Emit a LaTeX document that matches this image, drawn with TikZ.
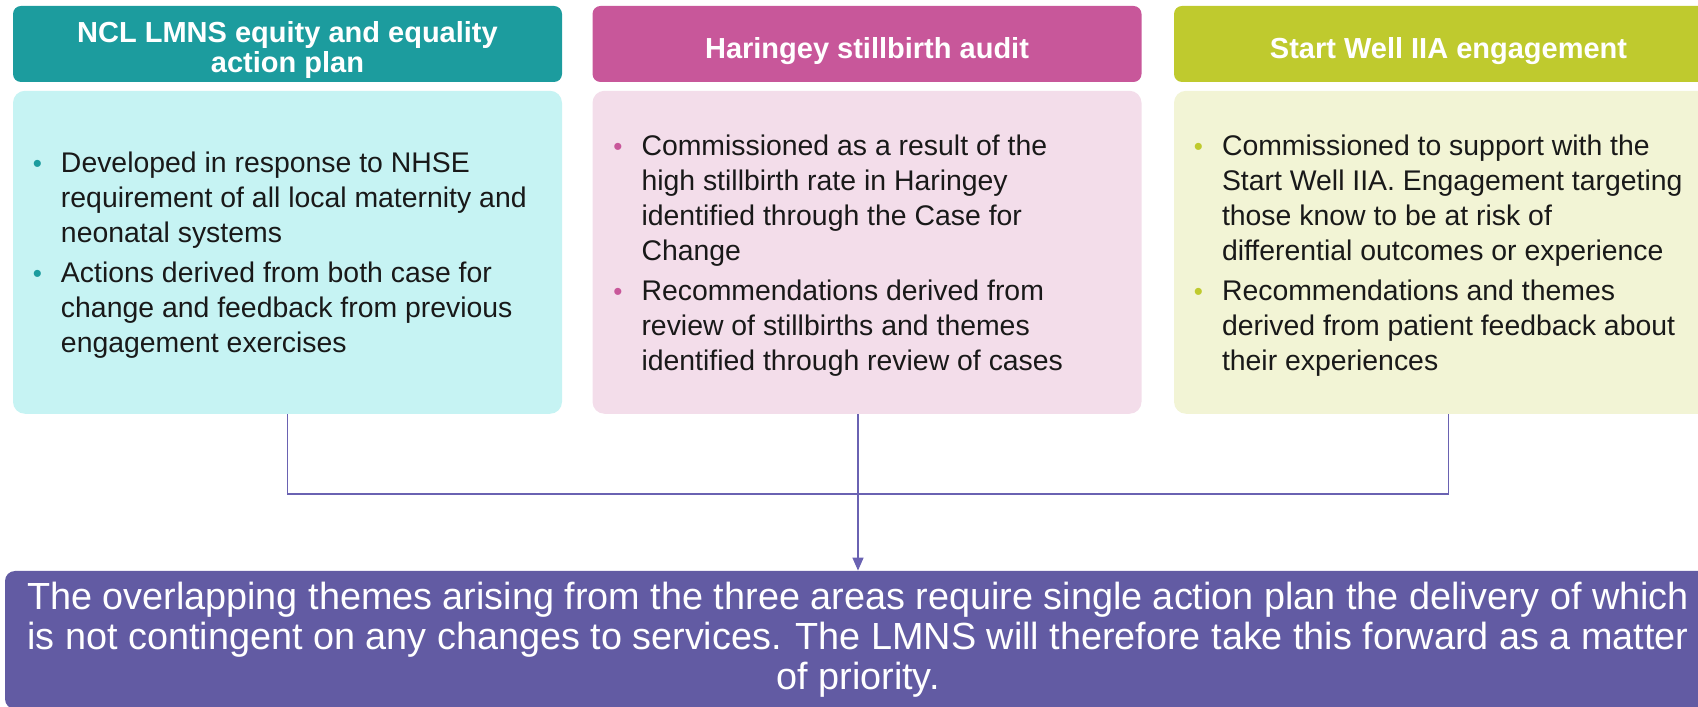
\documentclass[tikz,border=0pt]{standalone}
\usepackage{fontspec}
\setmainfont{Liberation Sans}
\usetikzlibrary{positioning,arrows.meta}
\definecolor{nclhead}{HTML}{1C9C9E}
\definecolor{nclbody}{HTML}{C6F3F3}
\definecolor{harhead}{HTML}{C8579A}
\definecolor{harbody}{HTML}{F3DDEA}
\definecolor{swhead}{HTML}{BFCA2E}
\definecolor{swbody}{HTML}{F2F4D5}
\definecolor{planfill}{HTML}{625BA3}
\definecolor{linkcol}{HTML}{6A62B2}
\tikzset{
	headbox/.style={rounded corners=4pt, minimum width=274.5pt, minimum height=38pt, inner sep=0pt},
	headtext/.style={inner sep=0pt, text=white, align=center, font=\fontsize{14.5}{15.2}\selectfont\bfseries},
	bodybox/.style={rounded corners=6pt, minimum width=274.5pt, minimum height=161.5pt, inner sep=0pt},
	bodytext/.style={anchor=west, align=left, inner sep=0pt, text=black!90, font=\fontsize{14.2}{17.5}\selectfont},
	planbox/.style={rounded corners=5pt, fill=planfill, minimum width=853pt, minimum height=69pt, inner sep=0pt, text=white, align=center, font=\fontsize{18.9}{20}\selectfont},
	link/.style={draw=linkcol, line width=0.75pt},
}
\newcommand{\dotitem}[1]{\llap{\textcolor{#1}{\fontsize{13}{13}\selectfont\textbullet}\hspace{9.5pt}}}
\begin{document}
\begin{tikzpicture}[x=0.5pt,y=0.5pt]
	\useasboundingbox (0,0) rectangle (1698,707);
	\clip (0,0) rectangle (1698,707);
	\node[headbox, fill=nclhead] (h1) at (287.5,663) {};
	\node[headbox, fill=harhead] (h2) at (867,663) {};
	\node[headbox, fill=swhead] (h3) at (1448.5,663) {};
	\node[headtext] (h1t) at ([yshift=-3pt]h1.center) {NCL LMNS equity and equality\\action plan};
	\node[headtext] (h2t) at ([yshift=-3.6pt]h2.center) {Haringey stillbirth audit};
	\node[headtext] (h3t) at ([yshift=-3.6pt]h3.center) {Start Well IIA engagement};
	\node[bodybox, fill=nclbody, below=4pt of h1] (b1) {};
	\node[bodybox, fill=harbody, below=4pt of h2] (b2) {};
	\node[bodybox, fill=swbody, below=4pt of h3] (b3) {};
	\node[bodytext] (t1) at ([xshift=24pt,yshift=-1.5pt]b1.west) {\dotitem{nclhead}Developed in response to NHSE\\requirement of all local maternity and\\neonatal systems\\[2.5pt]
		\dotitem{nclhead}Actions derived from both case for\\change and feedback from previous\\engagement exercises};
	\node[bodytext] (t2) at ([xshift=24.5pt,yshift=-1.5pt]b2.west) {\dotitem{harhead}Commissioned as a result of the\\high stillbirth rate in Haringey\\identified through the Case for\\Change\\[2.5pt]
		\dotitem{harhead}Recommendations derived from\\review of stillbirths and themes\\identified through review of cases};
	\node[bodytext] (t3) at ([xshift=24pt,yshift=-1.5pt]b3.west) {\dotitem{swhead}Commissioned to support with the\\Start Well IIA. Engagement targeting\\those know to be at risk of\\differential outcomes or experience\\[2.5pt]
		\dotitem{swhead}Recommendations and themes\\derived from patient feedback about\\their experiences};
	\node[planbox] (plan) at (858,67) {The overlapping themes arising from the three areas require single action plan the delivery of which\\is not contingent on any changes to services. The LMNS will therefore take this forward as a matter\\of priority.};
	\coordinate[below=40pt of b1.south] (jl);
	\coordinate (m2) at ([xshift=-4.5pt]b2.south);
	\draw[link] (b1.south) |- (b3.south |- jl) -- (b3.south);
	\draw[link, -{Triangle[width=5.5pt,length=6.5pt]}] (m2) -- (m2 |- plan.north);
\end{tikzpicture}
\end{document}
